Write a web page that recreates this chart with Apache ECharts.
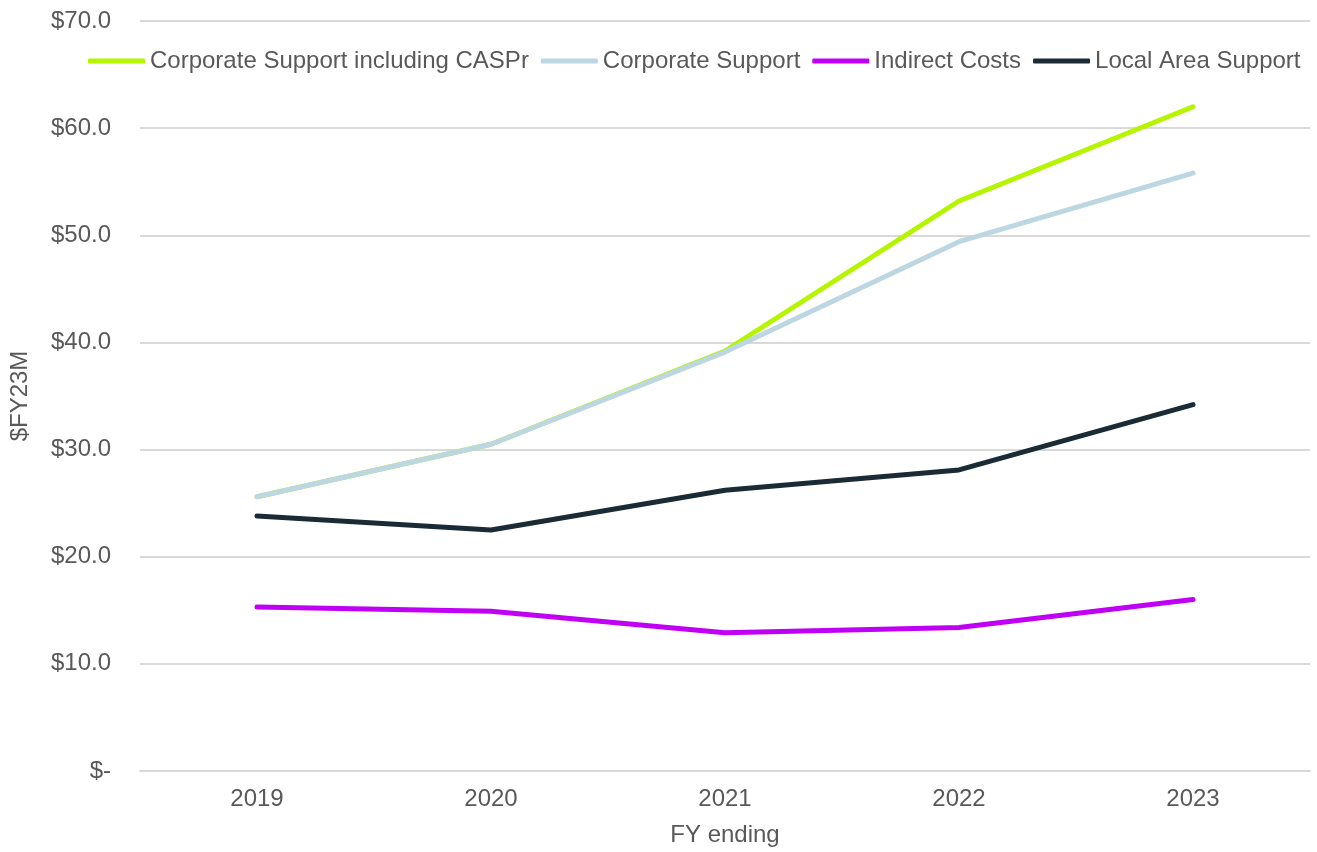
<!DOCTYPE html>
<html>
<head>
<meta charset="utf-8">
<title>Support costs, $FY23M</title>
<script src="https://cdn.jsdelivr.net/npm/echarts@6/dist/echarts.min.js"></script>
<style>
  html, body { margin: 0; padding: 0; background: #fff; }
  #chart { width: 1317px; height: 852px; }
</style>
</head>
<body>
<div id="chart"></div>
<script>
// Financial years (FY ending)
const years = ['2019', '2020', '2021', '2022', '2023'];

// Costs in $FY23M
const corporateInclCaspr = [25.6, 30.5, 39.2, 53.2, 62.0];
const corporateSupport   = [25.6, 30.5, 39.1, 49.4, 55.8];
const indirectCosts      = [15.3, 14.9, 12.9, 13.4, 16.0];
const localAreaSupport   = [23.8, 22.5, 26.2, 28.1, 34.2];

const seriesNames = [
  'Corporate Support including CASPr',
  'Corporate Support',
  'Indirect Costs',
  'Local Area Support'
];
const seriesColors = ['#b5f500', '#bcd7e1', '#c000f5', '#1b2b36'];
const seriesData = [corporateInclCaspr, corporateSupport, indirectCosts, localAreaSupport];

const textColor = '#595959';
const fontFamily = '"Liberation Sans", Arial, sans-serif';
const fontSize = 24;

const chart = echarts.init(document.getElementById('chart'), null, { renderer: 'canvas' });

chart.setOption({
  animation: false,
  backgroundColor: '#ffffff',
  textStyle: { fontFamily: fontFamily, color: textColor },
  grid: { left: 137, right: 7, top: 21, bottom: 79, containLabel: false },
  legend: {
    left: 83,
    top: 44,
    itemWidth: 57,
    itemHeight: 5,
    itemGap: 12,
    icon: 'roundRect',
    textStyle: { fontSize: fontSize, color: textColor, fontFamily: fontFamily },
    data: seriesNames
  },
  xAxis: {
    type: 'category',
    data: years,
    boundaryGap: true,
    name: 'FY ending',
    nameLocation: 'middle',
    nameGap: 52,
    nameTextStyle: { fontSize: fontSize, color: textColor, fontFamily: fontFamily },
    axisLine: { show: true, lineStyle: { color: '#d9d9d9', width: 2 } },
    axisTick: { show: false },
    axisLabel: { fontSize: fontSize, color: textColor, margin: 16, fontFamily: fontFamily }
  },
  yAxis: {
    type: 'value',
    min: 0,
    max: 70,
    interval: 10,
    name: '$FY23M',
    nameLocation: 'middle',
    nameGap: 108,
    nameTextStyle: { fontSize: fontSize, color: textColor, fontFamily: fontFamily },
    axisLine: { show: false },
    axisTick: { show: false },
    splitLine: { lineStyle: { color: '#d9d9d9', width: 2 } },
    axisLabel: {
      fontSize: fontSize,
      color: textColor,
      margin: 29,
      fontFamily: fontFamily,
      formatter: function (v) { return v === 0 ? '$-' : '$' + v.toFixed(1); }
    }
  },
  series: seriesNames.map(function (name, i) {
    return {
      name: name,
      type: 'line',
      data: seriesData[i],
      showSymbol: false,
      symbol: 'none',
      smooth: false,
      color: seriesColors[i],
      lineStyle: { color: seriesColors[i], width: 5, cap: 'round', join: 'round' },
      emphasis: { disabled: true }
    };
  })
});
</script>
</body>
</html>
